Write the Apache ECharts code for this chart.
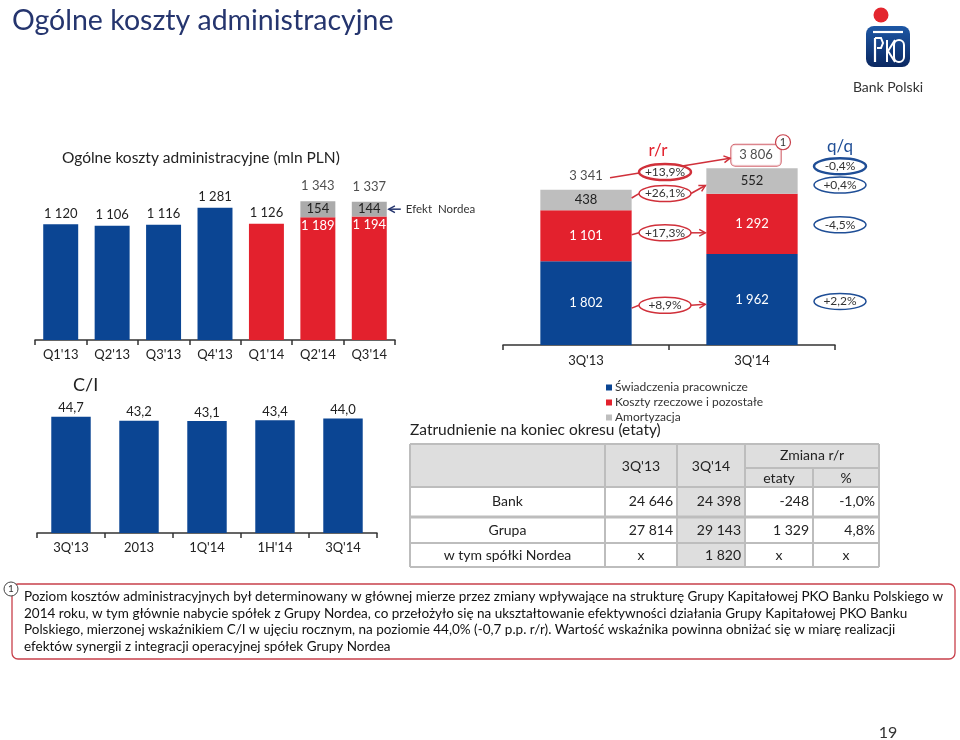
<!DOCTYPE html>
<html><head><meta charset="utf-8">
<script src="https://cdn.jsdelivr.net/npm/echarts@6/dist/echarts.min.js"></script>
<style>html,body{margin:0;padding:0;background:#fff}#c{width:960px;height:740px}</style>
</head><body><div id="c"></div>
<script>
// ---------- DATA ----------
const costCats = ["Q1'13","Q2'13","Q3'13","Q4'13","Q1'14","Q2'14","Q3'14"];
const costBlue = [1120,1106,1116,1281,'-','-','-'];
const costRed = ['-','-','-','-',1126,1189,1194];
const costNordea = ['-','-','-','-','-',154,144];
const costTotal = ['-','-','-','-','-',1343,1337];

const quarterCats = ["3Q'13","3Q'14"];
const empBenefits = [1802,1962];
const materialCosts = [1101,1292];
const amortization = [438,552];
const quarterTotal = [3341,3806];
const yoyChange = ['+13,9%','+26,1%','+17,3%','+8,9%'];
const qoqChange = ['-0,4%','+0,4%','-4,5%','+2,2%'];
const seriesNames = ['Świadczenia pracownicze','Koszty rzeczowe i pozostałe','Amortyzacja'];

const ciCats = ["3Q'13","2013","1Q'14","1H'14","3Q'14"];
const ciValues = [44.7,43.2,43.1,43.4,44.0];

const tableHead = ["3Q'13","3Q'14","Zmiana r/r","etaty","%"];
const tableRows = ['Bank','Grupa','w tym spółki Nordea'];
const tab3Q13 = ['24 646','27 814','x'];
const tab3Q14 = ['24 398','29 143','1 820'];
const tabChange = ['-248','1 329','x'];
const tabPct = ['-1,0%','4,8%','x'];

const footLines = [
 'Poziom kosztów administracyjnych był determinowany w głównej mierze przez zmiany wpływające na strukturę Grupy Kapitałowej PKO Banku Polskiego w',
 '2014 roku, w tym głównie nabycie spółek z Grupy Nordea, co przełożyło się na ukształtowanie efektywności działania Grupy Kapitałowej PKO Banku',
 'Polskiego, mierzonej wskaźnikiem C/I w ujęciu rocznym, na poziomie 44,0% (-0,7 p.p. r/r). Wartość wskaźnika powinna obniżać się w miarę realizacji',
 'efektów synergii z integracji operacyjnej spółek Grupy Nordea'
];

// ---------- STYLE ----------
const BLUE='#0B4593', RED='#E3212D', GRAY='#B4B4B4', NAVY='#25356E', TXT='#222';
const FF='Lato, "Open Sans", sans-serif';
const fmt = v => String(v).replace(/\B(?=(\d{3})+(?!\d))/g,' ');
const fmtC = v => v.toFixed(1).replace('.',',');

const chart = echarts.init(document.getElementById('c'), null, {renderer:'canvas'});

const axisCommon = {
  type:'category', axisLine:{lineStyle:{color:'#333',width:1.5}},
  axisTick:{show:true,length:5,lineStyle:{color:'#333',width:1.5}},
  axisLabel:{color:TXT,fontFamily:FF,fontSize:13,margin:8}
};

const option = {
  animation:false,
  textStyle:{fontFamily:FF},
  legend:{
    orient:'vertical', left:601, top:376, itemWidth:6, itemHeight:6, itemGap:2,
    icon:'rect', data:seriesNames,
    textStyle:{fontFamily:FF,fontSize:12,color:'#333',lineHeight:13,padding:[0,0,0,-2]}
  },
  grid:[
    {left:35, top:185, width:360, height:155},
    {left:503, top:136, width:332, height:209},
    {left:37, top:377, width:340, height:156}
  ],
  xAxis:[
    Object.assign({gridIndex:0,data:costCats},axisCommon),
    Object.assign({gridIndex:1,data:quarterCats},axisCommon,{axisLabel:{color:TXT,fontFamily:FF,fontSize:13,margin:9}}),
    Object.assign({gridIndex:2,data:ciCats},axisCommon)
  ],
  yAxis:[
    {gridIndex:0,type:'value',min:0,max:1500,show:false},
    {gridIndex:1,type:'value',min:0,max:4500,show:false},
    {gridIndex:2,type:'value',min:0,max:60,show:false}
  ],
  series:[
    {name:'Koszty Q', type:'bar', xAxisIndex:0, yAxisIndex:0, stack:'k', barWidth:'68%',
     data:costBlue, itemStyle:{color:BLUE},
     label:{show:true,position:'top',distance:4,color:TXT,fontSize:13,formatter:p=>fmt(p.value)}},
    {name:'Koszty Q red', type:'bar', xAxisIndex:0, yAxisIndex:0, stack:'k', barWidth:'68%',
     data:costRed.map((v,i)=> (v==='-'?v:(costNordea[i]==='-'
        ? {value:v,label:{show:true,position:'top',distance:4,color:TXT}}
        : {value:v,label:{show:true,position:'insideTop',distance:2,color:'#fff'}}))),
     itemStyle:{color:RED},
     label:{show:true,fontSize:13,formatter:p=>fmt(p.value)}},
    {name:'Efekt Nordea', type:'bar', xAxisIndex:0, yAxisIndex:0, stack:'k', barWidth:'68%',
     data:costNordea, itemStyle:{color:'#ABABAB'},
     label:{show:true,position:'inside',color:TXT,fontSize:13,formatter:p=>fmt(p.value)}},
    {name:'Suma Q', type:'scatter', xAxisIndex:0, yAxisIndex:0, data:costTotal, symbolSize:1,
     itemStyle:{color:'rgba(0,0,0,0)'},
     label:{show:true,position:'top',distance:8,color:TXT,fontSize:13,formatter:p=>fmt(p.value)}},

    {name:seriesNames[0], type:'bar', xAxisIndex:1, yAxisIndex:1, stack:'q', barWidth:'55%',
     data:empBenefits, itemStyle:{color:BLUE},
     label:{show:true,position:'inside',color:'#fff',fontSize:13,formatter:p=>fmt(p.value)}},
    {name:seriesNames[1], type:'bar', xAxisIndex:1, yAxisIndex:1, stack:'q', barWidth:'55%',
     data:materialCosts, itemStyle:{color:RED},
     label:{show:true,position:'inside',color:'#fff',fontSize:13,formatter:p=>fmt(p.value)}},
    {name:seriesNames[2], type:'bar', xAxisIndex:1, yAxisIndex:1, stack:'q', barWidth:'55%',
     data:amortization, itemStyle:{color:'#BEBEBE'},
     label:{show:true,position:'inside',color:TXT,fontSize:13,formatter:p=>fmt(p.value)}},
    {name:'Suma kw', type:'scatter', xAxisIndex:1, yAxisIndex:1, symbolSize:1,
     itemStyle:{color:'rgba(0,0,0,0)'},
     data:quarterTotal.map((v,i)=> i===0
       ? {value:v,label:{show:true,position:'top',distance:7,color:TXT,fontSize:13}}
       : {value:v,label:{show:true,position:'top',distance:2,color:TXT,fontSize:13,
          backgroundColor:'#fff',borderColor:'#C8404B',borderWidth:1,borderRadius:4,padding:[4,8,4,8],offset:[4,0]}}),
     label:{formatter:p=>fmt(p.value)}},

    {name:'C/I', type:'bar', xAxisIndex:2, yAxisIndex:2, barWidth:'58%',
     data:ciValues, itemStyle:{color:BLUE},
     label:{show:true,position:'top',distance:2,color:TXT,fontSize:13,formatter:p=>fmtC(p.value)}}
  ]
};
chart.setOption(option);

// ---------- ANNOTATIONS (positioned via the chart's scales) ----------
const P = (g,x,y)=>chart.convertToPixel({gridIndex:g},[x,y]);
const G = [];
const txt = (t,x,y,o)=>G.push(Object.assign({type:'text',z:20,style:Object.assign({text:t,x:x,y:y,fill:TXT,
  font:'13px '+FF,textAlign:'center',textVerticalAlign:'middle'},o||{})}));
const line = (pts,color,w)=>G.push({type:'polyline',z:15,shape:{points:pts},style:{stroke:color,lineWidth:w||1.5,fill:null}});
const arrow = (x1,y1,x2,y2,color)=>{
  line([[x1,y1],[x2,y2]],color,1.5);
  const a=Math.atan2(y2-y1,x2-x1), L=7, s=0.5;
  line([[x2-L*Math.cos(a-s),y2-L*Math.sin(a-s)],[x2,y2],[x2-L*Math.cos(a+s),y2-L*Math.sin(a+s)]],color,1.5);
};
const ell = (cx,cy,t,color,bold)=>{
  G.push({type:'ellipse',z:18,shape:{cx:cx,cy:cy,rx:26,ry:8},style:{fill:'#fff',stroke:color,lineWidth:bold?2.5:1.5}});
  txt(t,cx,cy,{font:'12px '+FF,fill:'#333'});
};

// title and logo
txt('Ogólne koszty administracyjne',12,21,{font:'28.5px '+FF,fill:NAVY,textAlign:'left'});
G.push({type:'circle',shape:{cx:881,cy:15,r:7.5},style:{fill:'#E3262E'}});
G.push({type:'rect',shape:{x:866,y:26,width:44,height:41,r:8},style:{fill:new echarts.graphic.LinearGradient(0,0,0,1,[{offset:0,color:'#1D57A5'},{offset:1,color:'#0A2760'}])}});
line([[873,32],[903,32]],'#fff',2.2);
line([[875,38],[875,62]],'#fff',2.2);
line([[875,38],[881,38],[883,43],[881,48],[877,48]],'#fff',2);
line([[887,40],[887,62]],'#fff',2);
line([[895,40],[888,51],[895,62]],'#fff',2);
G.push({type:'rect',shape:{x:894,y:40,width:10,height:22,r:5},style:{fill:null,stroke:'#fff',lineWidth:2}});
txt('Bank Polski',888,87,{font:'14px '+FF,fill:'#333'});

// top-left chart annotations
txt('Ogólne koszty administracyjne (mln PLN)',62,158,{font:'15.5px '+FF,fill:TXT,textAlign:'left'});
{
  const pq = P(0,6,costRed[6]+costNordea[6]/2);
  const hw = (P(0,1,0)[0]-P(0,0,0)[0])*0.68/2;
  arrow(pq[0]+hw+14,pq[1],pq[0]+hw+2,pq[1],NAVY);
  txt('Efekt  Nordea',pq[0]+hw+19,pq[1],{font:'11.5px '+FF,textAlign:'left',fill:'#333'});
}

// middle chart annotations
{
  const x0=P(1,0,0)[0], x1=P(1,1,0)[0], hw=(x1-x0)*0.55/2;
  const top=[0,1].map(i=>P(1,i,quarterTotal[i])[1]);
  const mid=(i,a,b)=>P(1,i,a+b/2)[1];
  const blueM=[0,1].map(i=>mid(i,0,empBenefits[i]));
  const redM=[0,1].map(i=>mid(i,empBenefits[i],materialCosts[i]));
  const grayM=[0,1].map(i=>mid(i,empBenefits[i]+materialCosts[i],amortization[i]));
  const mx=(x0+x1)/2-4;
  const ys=[(top[0]+top[1])/2-7,(grayM[0]+grayM[1])/2+3,(redM[0]+redM[1])/2+3,(blueM[0]+blueM[1])/2+4];
  txt('r/r',mx-7,top[1]-18,{font:'17px '+FF,fill:RED});
  // total arrow
  arrow(x0+24,top[0]-12,x1-22,top[1]-10,'#D0303A');
  // segment arrows
  const endY=[null,ys[1]-8,ys[2],ys[3]-1];
  const startY=[null,grayM[0]-2,ys[2]+2,blueM[0]+5];
  for(let k=1;k<4;k++){
    line([[x0+hw,startY[k]],[mx-26,ys[k]]],'#D0303A',1.5);
    arrow(mx+26,ys[k],x1-hw-1,endY[k],'#D0303A');
  }
  ys.forEach((y,k)=>ell(mx,y,yoyChange[k],'#D0303A',k===0));
  // footnote marker
  G.push({type:'circle',z:20,shape:{cx:x1+31,cy:top[1]-26,r:7.5},style:{fill:'#fff',stroke:'#C8404B',lineWidth:1.2}});
  txt('1',x1+31,top[1]-26,{font:'11px '+FF,fill:'#333'});
  // q/q
  const qx=x1+88;
  txt('q/q',qx,top[1]-22,{font:'17px '+FF,fill:'#1F4E96'});
  [top[1]-2,grayM[1]+4,redM[1]+1,blueM[1]+2].forEach((y,k)=>ell(qx,y,qoqChange[k],'#1F4E96',k===0));
}

// C/I title
txt('C/I',73,385,{font:'18px '+FF,fill:TXT,textAlign:'left'});

// employment table
txt('Zatrudnienie na koniec okresu (etaty)',410,430,{font:'15.5px '+FF,fill:TXT,textAlign:'left'});
{
  const cx=[410,605,677,745,813,879];
  const ry=[444,487,517,543,567];
  const hdrY=468, BG='#DEDEDE', BC='#BDBDBD';
  G.push({type:'rect',shape:{x:cx[0],y:ry[0],width:cx[5]-cx[0],height:ry[1]-ry[0]},style:{fill:BG}});
  G.push({type:'rect',shape:{x:cx[2],y:ry[1],width:cx[3]-cx[2],height:ry[4]-ry[1]},style:{fill:BG}});
  const ln=(x1,y1,x2,y2,w)=>G.push({type:'line',z:12,shape:{x1:x1,y1:y1,x2:x2,y2:y2},style:{stroke:BC,lineWidth:w||2}});
  ry.forEach((y,i)=>ln(cx[0],y,cx[5],y,i===2?3:2));
  ln(cx[3],hdrY,cx[5],hdrY,2);
  cx.forEach((x,i)=>ln(x,ry[0],x,ry[4],2));
  // white gap in header where Zmiana r/r spans
  G.push({type:'line',z:13,shape:{x1:cx[4],y1:ry[0]+1,x2:cx[4],y2:hdrY-1},style:{stroke:BG,lineWidth:2.5}});
  const F='14px '+FF;
  txt(tableHead[0],(cx[1]+cx[2])/2,466,{font:F});
  txt(tableHead[1],(cx[2]+cx[3])/2,466,{font:F});
  txt(tableHead[2],(cx[3]+cx[5])/2,455,{font:F});
  txt(tableHead[3],(cx[3]+cx[4])/2,478,{font:F});
  txt(tableHead[4],(cx[4]+cx[5])/2,478,{font:F});
  const rowY=[501,530,555];
  tableRows.forEach((r,i)=>{
    const y=rowY[i];
    txt(r,(cx[0]+cx[1])/2,y,{font:F});
    const cell=(v,c)=> v==='x' ? txt(v,(cx[c]+cx[c+1])/2,y,{font:F}) : txt(v,cx[c+1]-4,y,{font:F,textAlign:'right'});
    cell(tab3Q13[i],1); cell(tab3Q14[i],2); cell(tabChange[i],3); cell(tabPct[i],4);
  });
}

// footnote
G.push({type:'rect',shape:{x:12,y:584,width:943,height:75,r:6},style:{fill:null,stroke:'#C8404B',lineWidth:1.3}});
G.push({type:'circle',z:20,shape:{cx:11,cy:589,r:7},style:{fill:'#fff',stroke:'#444',lineWidth:1}});
txt('1',11,589,{font:'10px '+FF,fill:'#333'});
footLines.forEach((l,i)=>txt(l,24,597+i*16.4,{font:'13.5px '+FF,textAlign:'left',fill:'#111'}));

// page number
txt('19',888,733,{font:'16px '+FF,fill:'#333'});

chart.setOption({graphic:G});
</script>
</body></html>
